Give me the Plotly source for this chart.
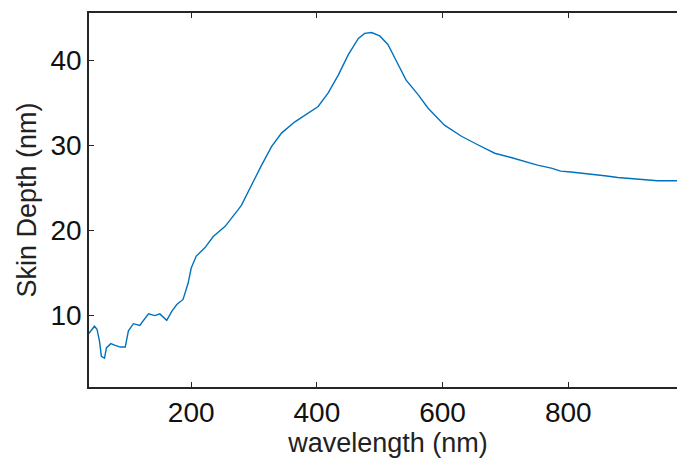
import plotly.graph_objects as go

# wavelength (nm) and skin depth (nm)
wavelength = [37, 46, 50, 54, 57, 62, 65, 72, 79, 87,
              95, 100, 108, 118, 132, 142, 150, 161, 169, 177,
              187, 195, 200, 208, 222, 235, 254, 264, 275, 280,
              296, 312, 328, 344, 365, 386, 402, 418, 434, 450,
              466, 476, 487, 500, 513, 524, 542, 561, 577, 603,
              630, 656, 683, 709, 736, 751, 773, 788, 804, 831,
              858, 879, 911, 932, 942, 989]
skin_depth = [7.9, 8.75, 8.4, 7.0, 5.2, 5.0, 6.2, 6.7, 6.5, 6.3,
              6.3, 8.2, 9.05, 8.85, 10.2, 10.0, 10.2, 9.45, 10.5, 11.3,
              11.9, 13.8, 15.6, 17.0, 18.0, 19.3, 20.5, 21.4, 22.5, 23.0,
              25.4, 27.7, 29.9, 31.5, 32.8, 33.8, 34.6, 36.2, 38.3, 40.7,
              42.6, 43.2, 43.3, 42.9, 41.9, 40.3, 37.7, 36.0, 34.4, 32.4,
              31.1, 30.1, 29.1, 28.6, 28.0, 27.7, 27.35, 27.0, 26.9, 26.7,
              26.45, 26.25, 26.1, 25.95, 25.87, 25.85]

x_ticks = [200, 400, 600, 800]
y_ticks = [10, 20, 30, 40]

AXIS_COLOR = '#262626'
FONT = 'Arial, Liberation Sans, sans-serif'

fig = go.Figure(go.Scatter(x=wavelength,
                           y=skin_depth,
                           mode='lines',
                           line={'color': '#0072BD', 'width': 1.4},
                           showlegend=False))

axis_style = dict(showline=True,
                  linecolor=AXIS_COLOR,
                  linewidth=1.5,
                  mirror='ticks',
                  ticks='inside',
                  ticklen=5,
                  tickwidth=1.2,
                  tickcolor=AXIS_COLOR,
                  showgrid=False,
                  zeroline=False,
                  automargin=False,
                  tickfont={'size': 28, 'color': '#111111', 'family': FONT})

fig.update_xaxes(range=[37.3, 989],
                 tickvals=x_ticks,
                 title={'text': 'wavelength (nm)',
                        'font': {'size': 27, 'color': '#222222',
                                 'family': FONT},
                        'standoff': 6},
                 **axis_style)
fig.update_yaxes(range=[1.6, 45.6],
                 tickvals=y_ticks,
                 title={'text': 'Skin Depth (nm)',
                        'font': {'size': 27, 'color': '#222222',
                                 'family': FONT},
                        'standoff': 6},
                 **axis_style)

fig.update_layout(width=685,
                  height=459,
                  margin={'l': 81, 'r': 6, 't': 5, 'b': 80},
                  plot_bgcolor='white',
                  paper_bgcolor='white',
                  font={'family': FONT})

fig.write_html("out.html")
